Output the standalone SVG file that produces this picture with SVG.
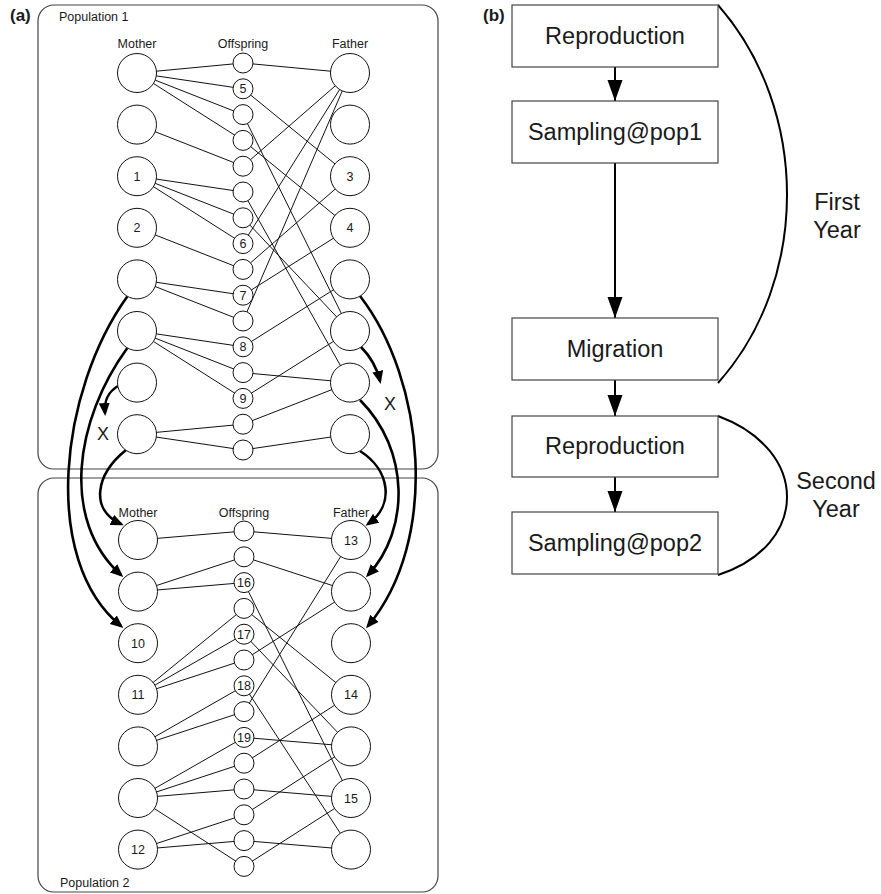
<svg xmlns="http://www.w3.org/2000/svg" width="881" height="894" viewBox="0 0 881 894">
<defs>
<style>
.t{font-family:"Liberation Sans",Arial,sans-serif;fill:#1a1a1a}
.s{font-size:12.5px;text-anchor:middle}
.pop{fill:none;stroke:#444;stroke-width:1.2}
.n{fill:#fff;stroke:#111;stroke-width:1}
.e line{stroke:#111;stroke-width:1}
.mig{fill:none;stroke:#000;stroke-width:2.6}
.box{fill:#fff;stroke:#444;stroke-width:1.2}
.flow{stroke:#000;stroke-width:2}
.yr{fill:none;stroke:#000;stroke-width:2}
.bt{font-size:23.5px;text-anchor:middle}
</style>
<marker id="ah" markerUnits="userSpaceOnUse" markerWidth="14" markerHeight="12" refX="10" refY="5.5" orient="auto"><path d="M0,0 L13,5.5 L0,11 z" fill="#000"/></marker>
<marker id="bh" markerUnits="userSpaceOnUse" markerWidth="22" markerHeight="16" refX="21" refY="7.5" orient="auto"><path d="M0,0 L21,7.5 L0,15 z" fill="#000"/></marker>
</defs>
<rect width="881" height="894" fill="#fff"/>

<text class="t" x="10" y="21" font-size="17" font-weight="bold">(a)</text>
<text class="t" x="483" y="21" font-size="17" font-weight="bold">(b)</text>

<g id="population1">
<rect class="pop" x="38" y="5" width="400" height="464" rx="16"/>
<text class="t" x="59" y="21" font-size="12.5">Population 1</text>
<text class="t s" x="137" y="48">Mother</text>
<text class="t s" x="243" y="48">Offspring</text>
<text class="t s" x="350" y="48">Father</text>
</g>
<g id="population2">
<rect class="pop" x="38" y="478" width="400" height="414" rx="16"/>
<text class="t" x="60" y="887" font-size="12.5">Population 2</text>
<text class="t s" x="138" y="517">Mother</text>
<text class="t s" x="244" y="517">Offspring</text>
<text class="t s" x="351" y="517">Father</text>
</g>

<g id="connectors">
<g class="e">
<line x1="137" y1="73" x2="243" y2="63"/>
<line x1="137" y1="73" x2="243" y2="88.8"/>
<line x1="137" y1="73" x2="243" y2="114.6"/>
<line x1="137" y1="73" x2="243" y2="140.4"/>
<line x1="137" y1="124.6" x2="243" y2="166.2"/>
<line x1="137" y1="176.2" x2="243" y2="192"/>
<line x1="137" y1="176.2" x2="243" y2="217.8"/>
<line x1="137" y1="176.2" x2="243" y2="243.6"/>
<line x1="137" y1="227.8" x2="243" y2="269.4"/>
<line x1="137" y1="279.4" x2="243" y2="295.2"/>
<line x1="137" y1="279.4" x2="243" y2="321"/>
<line x1="137" y1="331" x2="243" y2="346.8"/>
<line x1="137" y1="331" x2="243" y2="372.6"/>
<line x1="137" y1="331" x2="243" y2="398.4"/>
<line x1="137" y1="434.2" x2="243" y2="424.2"/>
<line x1="137" y1="434.2" x2="243" y2="450"/>
<line x1="350" y1="73" x2="243" y2="63"/>
<line x1="350" y1="73" x2="243" y2="166.2"/>
<line x1="350" y1="73" x2="243" y2="243.6"/>
<line x1="350" y1="73" x2="243" y2="321"/>
<line x1="350" y1="176.2" x2="243" y2="88.8"/>
<line x1="350" y1="176.2" x2="243" y2="269.4"/>
<line x1="350" y1="227.8" x2="243" y2="140.4"/>
<line x1="350" y1="227.8" x2="243" y2="295.2"/>
<line x1="350" y1="279.4" x2="243" y2="346.8"/>
<line x1="350" y1="331" x2="243" y2="114.6"/>
<line x1="350" y1="331" x2="243" y2="217.8"/>
<line x1="350" y1="331" x2="243" y2="398.4"/>
<line x1="350" y1="382.6" x2="243" y2="192"/>
<line x1="350" y1="382.6" x2="243" y2="372.6"/>
<line x1="350" y1="382.6" x2="243" y2="424.2"/>
<line x1="350" y1="434.2" x2="243" y2="450"/>

<line x1="138" y1="540" x2="244" y2="531"/>
<line x1="138" y1="591.6" x2="244" y2="556.8"/>
<line x1="138" y1="591.6" x2="244" y2="582.6"/>
<line x1="138" y1="694.8" x2="244" y2="608.4"/>
<line x1="138" y1="694.8" x2="244" y2="634.2"/>
<line x1="138" y1="694.8" x2="244" y2="660"/>
<line x1="138" y1="746.4" x2="244" y2="685.8"/>
<line x1="138" y1="746.4" x2="244" y2="711.6"/>
<line x1="138" y1="798" x2="244" y2="737.4"/>
<line x1="138" y1="798" x2="244" y2="763.2"/>
<line x1="138" y1="798" x2="244" y2="789"/>
<line x1="138" y1="798" x2="244" y2="866.4"/>
<line x1="138" y1="849.6" x2="244" y2="814.8"/>
<line x1="138" y1="849.6" x2="244" y2="840.6"/>
<line x1="351" y1="540" x2="244" y2="531"/>
<line x1="351" y1="540" x2="244" y2="711.6"/>
<line x1="351" y1="591.6" x2="244" y2="556.8"/>
<line x1="351" y1="591.6" x2="244" y2="660"/>
<line x1="351" y1="694.8" x2="244" y2="608.4"/>
<line x1="351" y1="694.8" x2="244" y2="763.2"/>
<line x1="351" y1="746.4" x2="244" y2="634.2"/>
<line x1="351" y1="746.4" x2="244" y2="737.4"/>
<line x1="351" y1="746.4" x2="244" y2="814.8"/>
<line x1="351" y1="798" x2="244" y2="582.6"/>
<line x1="351" y1="798" x2="244" y2="789"/>
<line x1="351" y1="798" x2="244" y2="866.4"/>
<line x1="351" y1="849.6" x2="244" y2="685.8"/>
<line x1="351" y1="849.6" x2="244" y2="840.6"/>
</g>
<g id="migration">
<path class="mig" d="M127.3,296.4 C60,390 40,560 121,626" marker-end="url(#ah)"/>
<path class="mig" d="M127.3,348 C75,420 60,520 121,575" marker-end="url(#ah)"/>
<path class="mig" d="M126,450 C95,475 90,510 121,524" marker-end="url(#ah)"/>
<path class="mig" d="M118,386 C108,392 104,400 105,413" marker-end="url(#ah)"/>
<path class="mig" d="M360,451 C390,470 395,505 368,524" marker-end="url(#ah)"/>
<path class="mig" d="M360,400 C410,450 410,530 368,575" marker-end="url(#ah)"/>
<path class="mig" d="M360,296 C425,380 440,540 368,626" marker-end="url(#ah)"/>
<path class="mig" d="M361,347 C370,356 377,368 380,381" marker-end="url(#ah)"/>
<text class="t" x="103" y="440" font-size="18" text-anchor="middle">X</text>
<text class="t" x="390" y="410" font-size="18" text-anchor="middle">X</text>
</g>
<g id="flow-arrows">
<line class="flow" x1="615" y1="67" x2="615" y2="101" marker-end="url(#bh)"/>
<line class="flow" x1="615" y1="163" x2="615" y2="318" marker-end="url(#bh)"/>
<line class="flow" x1="615" y1="380" x2="615" y2="416" marker-end="url(#bh)"/>
<line class="flow" x1="615" y1="477" x2="615" y2="512" marker-end="url(#bh)"/>
<path class="yr" d="M718,5 C810,110 810,280 718,383"/>
<path class="yr" d="M718,416 C810,450 810,545 718,575"/>
</g>
</g>

<g id="nodes-pop1">
<g id="m1"><circle class="n" cx="137" cy="73" r="19.5"/></g>
<g id="m2"><circle class="n" cx="137" cy="124.6" r="19.5"/></g>
<g id="m3"><circle class="n" cx="137" cy="176.2" r="19.5"/><text class="t s" x="137" y="180.7">1</text></g>
<g id="m4"><circle class="n" cx="137" cy="227.8" r="19.5"/><text class="t s" x="137" y="232.3">2</text></g>
<g id="m5"><circle class="n" cx="137" cy="279.4" r="19.5"/></g>
<g id="m6"><circle class="n" cx="137" cy="331" r="19.5"/></g>
<g id="m7"><circle class="n" cx="137" cy="382.6" r="19.5"/></g>
<g id="m8"><circle class="n" cx="137" cy="434.2" r="19.5"/></g>
<g id="f1"><circle class="n" cx="350" cy="73" r="19.5"/></g>
<g id="f2"><circle class="n" cx="350" cy="124.6" r="19.5"/></g>
<g id="f3"><circle class="n" cx="350" cy="176.2" r="19.5"/><text class="t s" x="350" y="180.7">3</text></g>
<g id="f4"><circle class="n" cx="350" cy="227.8" r="19.5"/><text class="t s" x="350" y="232.3">4</text></g>
<g id="f5"><circle class="n" cx="350" cy="279.4" r="19.5"/></g>
<g id="f6"><circle class="n" cx="350" cy="331" r="19.5"/></g>
<g id="f7"><circle class="n" cx="350" cy="382.6" r="19.5"/></g>
<g id="f8"><circle class="n" cx="350" cy="434.2" r="19.5"/></g>
<g id="o1"><circle class="n" cx="243" cy="63" r="10"/></g>
<g id="o2"><circle class="n" cx="243" cy="88.8" r="10"/><text class="t s" x="243" y="93.3">5</text></g>
<g id="o3"><circle class="n" cx="243" cy="114.6" r="10"/></g>
<g id="o4"><circle class="n" cx="243" cy="140.4" r="10"/></g>
<g id="o5"><circle class="n" cx="243" cy="166.2" r="10"/></g>
<g id="o6"><circle class="n" cx="243" cy="192" r="10"/></g>
<g id="o7"><circle class="n" cx="243" cy="217.8" r="10"/></g>
<g id="o8"><circle class="n" cx="243" cy="243.6" r="10"/><text class="t s" x="243" y="248.1">6</text></g>
<g id="o9"><circle class="n" cx="243" cy="269.4" r="10"/></g>
<g id="o10"><circle class="n" cx="243" cy="295.2" r="10"/><text class="t s" x="243" y="299.7">7</text></g>
<g id="o11"><circle class="n" cx="243" cy="321" r="10"/></g>
<g id="o12"><circle class="n" cx="243" cy="346.8" r="10"/><text class="t s" x="243" y="351.3">8</text></g>
<g id="o13"><circle class="n" cx="243" cy="372.6" r="10"/></g>
<g id="o14"><circle class="n" cx="243" cy="398.4" r="10"/><text class="t s" x="243" y="402.9">9</text></g>
<g id="o15"><circle class="n" cx="243" cy="424.2" r="10"/></g>
<g id="o16"><circle class="n" cx="243" cy="450" r="10"/></g>
</g>

<g id="nodes-pop2">
<g id="n1"><circle class="n" cx="138" cy="540" r="19.5"/></g>
<g id="n2"><circle class="n" cx="138" cy="591.6" r="19.5"/></g>
<g id="n3"><circle class="n" cx="138" cy="643.2" r="19.5"/><text class="t s" x="138" y="647.7">10</text></g>
<g id="n4"><circle class="n" cx="138" cy="694.8" r="19.5"/><text class="t s" x="138" y="699.3">11</text></g>
<g id="n5"><circle class="n" cx="138" cy="746.4" r="19.5"/></g>
<g id="n6"><circle class="n" cx="138" cy="798" r="19.5"/></g>
<g id="n7"><circle class="n" cx="138" cy="849.6" r="19.5"/><text class="t s" x="138" y="854.1">12</text></g>
<g id="g1"><circle class="n" cx="351" cy="540" r="19.5"/><text class="t s" x="351" y="544.5">13</text></g>
<g id="g2"><circle class="n" cx="351" cy="591.6" r="19.5"/></g>
<g id="g3"><circle class="n" cx="351" cy="643.2" r="19.5"/></g>
<g id="g4"><circle class="n" cx="351" cy="694.8" r="19.5"/><text class="t s" x="351" y="699.3">14</text></g>
<g id="g5"><circle class="n" cx="351" cy="746.4" r="19.5"/></g>
<g id="g6"><circle class="n" cx="351" cy="798" r="19.5"/><text class="t s" x="351" y="802.5">15</text></g>
<g id="g7"><circle class="n" cx="351" cy="849.6" r="19.5"/></g>
<g id="p1"><circle class="n" cx="244" cy="531" r="10"/></g>
<g id="p2"><circle class="n" cx="244" cy="556.8" r="10"/></g>
<g id="p3"><circle class="n" cx="244" cy="582.6" r="10"/><text class="t s" x="244" y="587.1">16</text></g>
<g id="p4"><circle class="n" cx="244" cy="608.4" r="10"/></g>
<g id="p5"><circle class="n" cx="244" cy="634.2" r="10"/><text class="t s" x="244" y="638.7">17</text></g>
<g id="p6"><circle class="n" cx="244" cy="660" r="10"/></g>
<g id="p7"><circle class="n" cx="244" cy="685.8" r="10"/><text class="t s" x="244" y="690.3">18</text></g>
<g id="p8"><circle class="n" cx="244" cy="711.6" r="10"/></g>
<g id="p9"><circle class="n" cx="244" cy="737.4" r="10"/><text class="t s" x="244" y="741.9">19</text></g>
<g id="p10"><circle class="n" cx="244" cy="763.2" r="10"/></g>
<g id="p11"><circle class="n" cx="244" cy="789" r="10"/></g>
<g id="p12"><circle class="n" cx="244" cy="814.8" r="10"/></g>
<g id="p13"><circle class="n" cx="244" cy="840.6" r="10"/></g>
<g id="p14"><circle class="n" cx="244" cy="866.4" r="10"/></g>
</g>

<g id="b-reproduction1"><rect class="box" x="512" y="5" width="206" height="62"/><text class="t bt" x="615" y="44">Reproduction</text></g>
<g id="b-sampling1"><rect class="box" x="512" y="101" width="206" height="62"/><text class="t bt" x="615" y="140">Sampling@pop1</text></g>
<g id="b-migration"><rect class="box" x="512" y="318" width="206" height="62"/><text class="t bt" x="615" y="357">Migration</text></g>
<g id="b-reproduction2"><rect class="box" x="512" y="416" width="206" height="61"/><text class="t bt" x="615" y="454">Reproduction</text></g>
<g id="b-sampling2"><rect class="box" x="512" y="512" width="206" height="62"/><text class="t bt" x="615" y="551">Sampling@pop2</text></g>
<g id="year-labels">
<text class="t bt" x="837" y="210">First</text>
<text class="t bt" x="837" y="238">Year</text>
<text class="t bt" x="836" y="489">Second</text>
<text class="t bt" x="836" y="517">Year</text>
</g>
</svg>
